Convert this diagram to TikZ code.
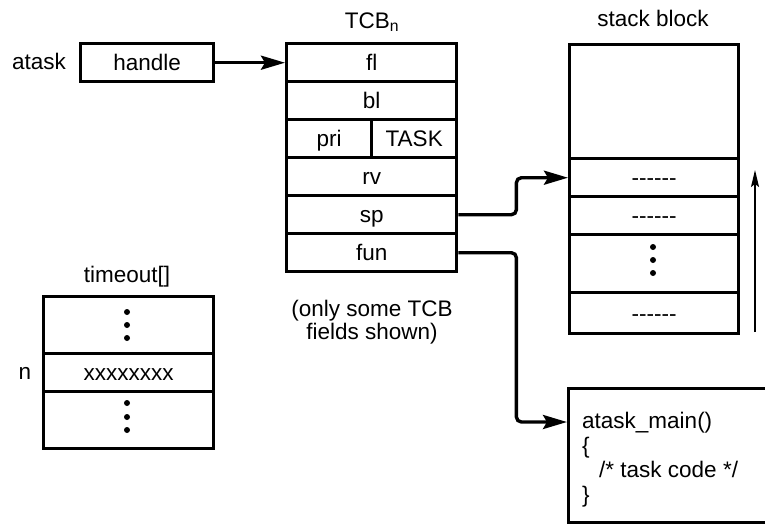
\documentclass[tikz,border=0pt]{standalone}
\usepackage{fontspec}
\setmainfont{Liberation Sans}
\usetikzlibrary{arrows.meta}
\begin{document}
\begin{tikzpicture}[x=1pt,y=-1pt,
  every node/.style={font=\fontsize{22.5}{25}\selectfont, text=black},
  cell/.style={draw, line width=3.4pt, anchor=north west, inner sep=0pt, minimum width=#1, text height=16pt, text depth=0pt},
  conn/.style={line width=3.4pt, rounded corners=5pt, -{Stealth[length=24pt,width=14pt,inset=4pt]}},
  dot/.style={circle, fill, inner sep=0pt, minimum size=6pt},
  lbl/.style={inner sep=0pt}
]
\useasboundingbox (0,0) rectangle (765,523);

% atask / handle
\node[lbl] (atask) at (39,61) {atask};
\node[cell=133pt, minimum height=38pt] (handle) at (79,42) {handle};

% TCB
\node[lbl] (tcbt) at (372,22) {TCB\textsubscript{n}};
\node[cell=170pt, minimum height=38pt] (fl) at (285,42) {fl};
\node[cell=170pt, minimum height=38pt] (bl) at (285,80) {bl};
\node[cell=85pt, minimum height=38pt] (pri) at (285,118) {pri};
\node[cell=85pt, minimum height=38pt] (task) at (370,118) {TASK};
\node[cell=170pt, minimum height=38pt] (rv) at (285,156) {rv};
\node[cell=170pt, minimum height=38pt] (sp) at (285,194) {sp};
\node[cell=170pt, minimum height=38pt] (fun) at (285,232) {fun};
\node[lbl, align=center, font=\fontsize{22.5}{23}\selectfont] (note) at (372,322) {(only some TCB\\fields shown)};

% stack block
\node[lbl] (stt) at (653,18) {stack block};
\node[cell=169pt, minimum height=114pt] (s0) at (568,43) {};
\node[cell=169pt, minimum height=38pt] (s1) at (568,157) {-{}-{}-{}-{}-{}-};
\node[cell=169pt, minimum height=38pt] (s2) at (568,195) {-{}-{}-{}-{}-{}-};
\node[cell=169pt, minimum height=58pt] (s3) at (568,233) {};
\node[cell=169pt, minimum height=41pt] (s4) at (568,291) {-{}-{}-{}-{}-{}-};
\node[dot] (sd1) at (653,247) {};
\node[dot] (sd2) at (653,260) {};
\node[dot] (sd3) at (653,273) {};
\coordinate (upbot) at (755,332);
\coordinate (uptop) at (755,170);
\draw[line width=1.6pt, -{Stealth[length=17pt,width=8pt,inset=3pt]}] (upbot) -- (uptop);

% timeout
\node[lbl] (tot) at (127,277) {timeout[]};
\node[cell=170pt, minimum height=57pt] (t0) at (42,295) {};
\node[cell=170pt, minimum height=38pt] (t1) at (42,352) {xxxxxxxx};
\node[cell=170pt, minimum height=57pt] (t2) at (42,390) {};
\node[lbl] (nl) at (25,373) {n};
\node[dot] (td1) at (127,312) {};
\node[dot] (td2) at (127,325) {};
\node[dot] (td3) at (127,338) {};
\node[dot] (td4) at (127,403) {};
\node[dot] (td5) at (127,417) {};
\node[dot] (td6) at (127,430) {};

% code box
\node[draw, line width=3.4pt, anchor=north west, inner sep=0pt, minimum width=220pt, minimum height=134pt] (code) at (567,387) {};
\node[lbl, anchor=north west, align=left, font=\fontsize{22.5}{24.5}\selectfont] (codetxt) at (582,412)
  {atask\_main()\\\{\\\hspace*{17pt}/* task code */\\\}};
\coordinate (codein) at (567,422);

% connectors
\draw[conn] (handle.east) -- (fl.west);
\draw[conn] (sp.east) -- ([xshift=58pt]sp.east) |- (s1.west);
\draw[conn] (fun.east) -- ([xshift=58pt]fun.east) |- (codein);
\end{tikzpicture}
\end{document}
